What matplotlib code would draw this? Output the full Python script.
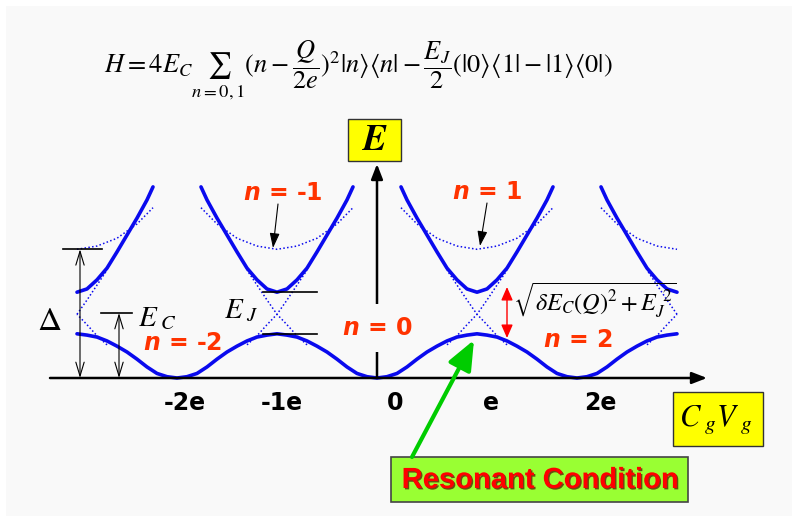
import matplotlib
matplotlib.use("Agg")
import matplotlib.pyplot as plt
import matplotlib.patheffects as pe
from matplotlib.patches import Rectangle
import numpy as np

plt.rcParams["mathtext.fontset"] = "custom"
plt.rcParams["mathtext.it"] = "DejaVu Sans:italic:bold"
plt.rcParams["mathtext.rm"] = "DejaVu Sans:bold"

# gate charge in units of e, energy in units of E_C
odd_charges = [-3, -1, 1, 3]
tick_charges = [-2, -1, 0, 1, 2]
tick_labels = ["-2e", "-1e", "0", "e", "2e"]

# distance from the odd-charge degeneracy point
d_band = [0.0, 0.1, 0.2, 0.3, 0.4, 0.5, 0.6, 0.7, 0.8, 0.9, 1.0]
lower_band = [0.68, 0.66, 0.63, 0.57, 0.49, 0.40, 0.29, 0.17, 0.07, 0.02, 0.0]

d_upper = [0.0, 0.1, 0.2, 0.3, 0.4, 0.5, 0.6, 0.7, 0.76]
upper_band = [1.32, 1.37, 1.51, 1.69, 1.94, 2.20, 2.46, 2.74, 2.94]

d_arc = [0.0, 0.2, 0.4, 0.6, 0.76]
arc_band = [1.98, 2.03, 2.15, 2.37, 2.62]

# bare charge parabolas near the crossing (dotted X)
d_cross = [-0.3, -0.2, -0.1, 0.0, 0.1, 0.2, 0.3]
cross_line = [0.51, 0.65, 0.82, 0.98, 1.20, 1.43, 1.66]

labels_n = ["-1", "1", "0", "-2", "2"]

BLUE = "#0a0aee"
RED = "#ff3300"
BG = "#f9f9f9"


def P(x, y):
    # pixel position in the 792x524 picture -> data coords
    return ((x - 377) / 100.0, (378 - y) / 65.0)


def mirror(d, v):
    d = np.asarray(d)
    v = np.asarray(v)
    return np.concatenate([-d[::-1], d[1:]]), np.concatenate([v[::-1], v[1:]])


def clip(q, e):
    m = (q >= -3.0001) & (q <= 3.0001)
    return q[m], e[m]


fig = plt.figure(figsize=(7.92, 5.24), dpi=100)
ax = fig.add_axes([0, 0, 1, 1])
x0, y0 = P(0, 524)
x1, y1 = P(792, 0)
ax.set_xlim(x0, x1)
ax.set_ylim(y0, y1)
ax.axis("off")

bx, by = P(6, 516)
ax.add_patch(Rectangle((bx, by), x1 - bx + 0.1, P(0, 6)[1] - by, fc=BG, ec="none", zorder=0))

# bands
fd, fl = mirror(d_band, lower_band)
lq, le = [], []
for c in odd_charges:
    q, e = clip(c + fd, fl)
    lq.extend(q)
    le.extend(e)
ax.plot(lq, le, color=BLUE, lw=2.6, solid_capstyle="round", zorder=4)

ud, uv = mirror(d_upper, upper_band)
ad, av = mirror(d_arc, arc_band)
for c in odd_charges:
    q, e = clip(c + ud, uv)
    ax.plot(q, e, color=BLUE, lw=2.6, solid_capstyle="round", zorder=4)
    q, e = clip(c + ad, av)
    ax.plot(q, e, color=BLUE, lw=1.1, ls=(0, (1, 1.5)), zorder=3)
    for sgn in (1, -1):
        q, e = clip(c + sgn * np.asarray(d_cross), np.asarray(cross_line))
        ax.plot(q, e, color=BLUE, lw=1.1, ls=(0, (1, 1.5)), zorder=3)

# axes arrows
ax.annotate("", xy=P(707, 378), xytext=P(50, 378),
            arrowprops=dict(arrowstyle="-|>,head_length=0.9,head_width=0.35", color="black",
                            lw=1.8, shrinkA=0, shrinkB=0, mutation_scale=10), zorder=5)
ax.annotate("", xy=P(377, 164), xytext=P(377, 378),
            arrowprops=dict(arrowstyle="-|>,head_length=0.9,head_width=0.35", color="black",
                            lw=1.8, shrinkA=0, shrinkB=0, mutation_scale=10), zorder=5)

for t, lab, nud in zip(tick_charges, tick_labels, [0.08, 0.05, 0.18, 0.14, 0.23]):
    ax.text(t + nud, P(0, 403)[1], lab, ha="center", va="center", fontsize=17,
            fontweight="bold", family="DejaVu Sans", color="black")

# yellow axis boxes
ex, ey = P(348, 161)
ax.add_patch(Rectangle((ex, ey), 0.53, 42 / 65, fc="#ffff00", ec="#333333", lw=1, zorder=6))
ax.text(*P(375, 140), r"$\mathbfit{E}$", math_fontfamily="stix", fontsize=26,
        ha="center", va="center", zorder=7)
cx, cy = P(673, 446)
ax.add_patch(Rectangle((cx, cy), 0.90, 54 / 65, fc="#ffff00", ec="#333333", lw=1, zorder=6))
ax.text(*P(716, 420), r"$C_{\ g}V_{\ g}$", math_fontfamily="stix", fontsize=22,
        ha="center", va="center", zorder=7)

# Hamiltonian
ax.text(*P(358, 70),
        r"$H=4E_C\sum_{n=0,1}(n-\dfrac{Q}{2e})^2|n\rangle\langle n|-\dfrac{E_J}{2}(|0\rangle\langle 1|-|1\rangle\langle 0|)$",
        math_fontfamily="stix", fontsize=19, ha="center", va="center")

# n labels
n_pos = [(283, 193), (487, 192), (377, 328), (183, 343), (578, 340)]
for lab, (px_, py_) in zip(labels_n, n_pos):
    kw = {}
    if lab == "0":
        kw["bbox"] = dict(fc=BG, ec="none", boxstyle="square,pad=0.5")
    ax.text(*P(px_, py_), r"$n$ = " + lab, color=RED, fontsize=17, fontweight="bold",
            family="DejaVu Sans", ha="center", va="center", zorder=8, **kw)

# small arrows to the n=-1 / n=1 curves
for (xa, ya), (xb, yb) in [((278, 204), (273, 248)), ((487, 203), (480, 246))]:
    ax.annotate("", xy=P(xb, yb), xytext=P(xa, ya),
                arrowprops=dict(arrowstyle="-|>,head_length=0.9,head_width=0.3", color="black",
                                lw=0.8, shrinkA=0, shrinkB=0, mutation_scale=10), zorder=6)

# Delta and E_C markers
ax.plot([P(63, 0)[0], P(102, 0)[0]], [arc_band[0], arc_band[0]], color="black", lw=1.2, zorder=5)
ax.annotate("", xy=(P(80, 0)[0], arc_band[0]), xytext=(P(80, 0)[0], 0),
            arrowprops=dict(arrowstyle="<->,head_length=1.0,head_width=0.3", color="black",
                            lw=0.8, shrinkA=0, shrinkB=0, mutation_scale=10), zorder=5)
ax.text(*P(49, 321), r"$\Delta$", math_fontfamily="stix", fontsize=24, ha="center", va="center")

ax.plot([P(101, 0)[0], P(132, 0)[0]], [1.0, 1.0], color="black", lw=1.2, zorder=5)
ax.annotate("", xy=(P(119, 0)[0], 1.0), xytext=(P(119, 0)[0], 0),
            arrowprops=dict(arrowstyle="<->,head_length=1.0,head_width=0.3", color="black",
                            lw=0.8, shrinkA=0, shrinkB=0, mutation_scale=10), zorder=5)
ax.text(*P(138, 318), r"$E_{\ C}$", math_fontfamily="stix", fontsize=21, ha="left", va="center")

# E_J gap markers at -1e
for lev in (upper_band[0], lower_band[0]):
    ax.plot([P(263, 0)[0], P(317, 0)[0]], [lev, lev], color="black", lw=1.2, zorder=5)
ax.text(*P(224, 310), r"$E_{\ J}$", math_fontfamily="stix", fontsize=21, ha="left", va="center")

# red gap arrow + formula
ax.annotate("", xy=P(507, 287), xytext=P(507, 338),
            arrowprops=dict(arrowstyle="<|-|>,head_length=0.8,head_width=0.35", color="red",
                            lw=1.0, shrinkA=0, shrinkB=0, mutation_scale=10), zorder=6)
ax.text(*P(513, 300), r"$\sqrt{\delta E_C(Q)^2+E_J^{\ 2}}$", math_fontfamily="stix",
        fontsize=17.5, ha="left", va="center", zorder=6)

# resonant condition
rx, ry = P(391, 502)
ax.add_patch(Rectangle((rx, ry), 2.97, 45 / 65, fc="#99ff33", ec="#444444", lw=1.2, zorder=6))
ax.text(*P(540, 480), "Resonant Condition", color="#ff0000", fontsize=21, fontweight="bold",
        family="Liberation Sans", ha="center", va="center", zorder=7,
        path_effects=[pe.withSimplePatchShadow(offset=(1, -1), shadow_rgbFace="#550000", alpha=0.7)])
ax.annotate("", xy=P(474, 340), xytext=P(412, 457),
            arrowprops=dict(arrowstyle="-|>,head_length=1.8,head_width=0.75", color="#00cc00",
                            lw=3, shrinkA=0, shrinkB=0, mutation_scale=10), zorder=7)

fig.savefig("out.png", dpi=100)
